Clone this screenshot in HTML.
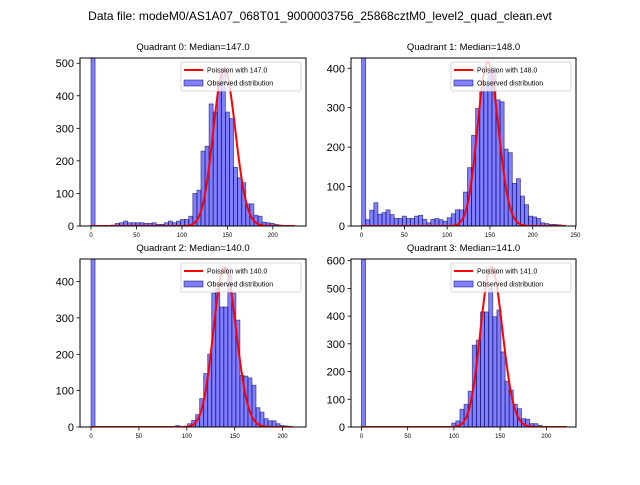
<!DOCTYPE html>
<html><head><meta charset="utf-8"><style>
body{margin:0;background:#fff;}
svg{font-family:"Liberation Sans","DejaVu Sans",sans-serif;}
</style></head><body>
<svg id="fig" width="640" height="480" viewBox="0 0 640 480">
<text x="320" y="20" text-anchor="middle" font-size="12">Data file: modeM0/AS1A07_068T01_9000003756_25868cztM0_level2_quad_clean.evt</text>
</svg>
<script>
const q0Counts=[600,0,0,0,0,3,8,10,15,10,10,10,10,8,8,10,5,5,10,15,10,15,20,20,30,100,110,230,245,375,350,440,480,350,330,180,148,133,68,68,33,30,12,10,8,5,3,2,1,1];
const q1Counts=[600,16,40,59,30,34,41,29,19,19,25,19,19,25,27,17,8,17,19,16,12,21,31,41,41,86,148,230,298,340,360,387,400,320,315,195,186,108,120,76,54,25,23,19,8,6,4,4,3,2];
const q2Counts=[600,0,0,0,0,0,0,0,0,0,0,0,0,0,0,0,0,0,0,0,0,4,0,0,9,18,34,78,147,200,368,380,330,330,420,368,294,142,140,135,115,53,41,23,17,17,9,4,3,1];
const q3Counts=[800,0,0,0,0,0,0,0,0,0,0,0,0,0,0,0,0,0,0,0,0,0,14,22,64,82,129,295,313,415,415,500,398,422,271,165,133,82,66,30,28,12,12,6,0,0,0,0,0,0];
const dataMax=[224,238,210,222];
const medians=[147.0,148.0,140.0,141.0];
const poissonScale=[14700,12650,13050,17170];
const xTicks=[[0,50,100,150,200],[0,50,100,150,200,250],[0,50,100,150,200],[0,50,100,150,200]];
const yTicks=[[0,100,200,300,400,500],[0,100,200,300,400],[0,100,200,300,400],[0,100,200,300,400,500,600]];
const xLim=[[-12.1,236.5],[-12.4,250.6],[-11.5,224.4],[-11.3,232.1]];
const yLim=[[0,516],[0,426],[0,462],[0,606]];
const allCounts=[q0Counts,q1Counts,q2Counts,q3Counts];
const boxes=[[80,58,306,226],[351,58,576,226],[80,259,306,427],[351,259,576,427]];
const NS='http://www.w3.org/2000/svg';
const svg=document.getElementById('fig');
function mk(t,a,p){const e=document.createElementNS(NS,t);for(const k in a)e.setAttribute(k,a[k]);(p||svg).appendChild(e);return e;}
function lnFact(k){let s=0;for(let i=2;i<=k;i++)s+=Math.log(i);return s;}
for(let q=0;q<4;q++){
  const [L,T,R,B]=boxes[q];
  const g=mk('g',{});
  
  
  const xs=v=>L+(v-xLim[q][0])/(xLim[q][1]-xLim[q][0])*(R-L);
  const ys=v=>B-(v-yLim[q][0])/(yLim[q][1]-yLim[q][0])*(B-T);
  const clipId='clip'+q;
  const cp=mk('clipPath',{id:clipId},g);mk('rect',{x:L,y:T,width:R-L,height:B-T},cp);
  const bars=mk('g',{'clip-path':'url(#'+clipId+')'},g);
  const c=allCounts[q];const bw=dataMax[q]/c.length;
  c.forEach((v,i)=>{ if(v<=0)return;
    const x0=xs(i*bw),x1=xs((i+1)*bw);
    const r=mk('rect',{x:x0,y:ys(v),width:x1-x0,height:B-ys(v),fill:'rgba(0,0,255,0.5)',stroke:'rgba(0,0,80,0.6)','stroke-width':0.8},bars);
    
    
  });
  let d='';
  for(let k=0;k<=Math.floor(dataMax[q]);k++){
    const lam=medians[q];
    const p=Math.exp(k*Math.log(lam)-lam-lnFact(k))*poissonScale[q];
    d+=(k?'L':'M')+xs(k).toFixed(2)+','+ys(p).toFixed(2);
  }
  const pl=mk('path',{d:d,fill:'none',stroke:'#ff0000','stroke-width':2},bars);
  
  
  mk('rect',{x:L,y:T,width:R-L,height:B-T,fill:'none',stroke:'#000','stroke-width':1},g);
  xTicks[q].forEach(t=>{const x=xs(t);mk('line',{x1:x,y1:B,x2:x,y2:B+3.5,stroke:'#000','stroke-width':0.8},g);
    const tx=mk('text',{x:x,y:B+11,'text-anchor':'middle','font-size':6},g);tx.textContent=t;
    });
  yTicks[q].forEach(t=>{const y=ys(t);mk('line',{x1:L-3.5,y1:y,x2:L,y2:y,stroke:'#000','stroke-width':0.8},g);
    const tx=mk('text',{x:L-6,y:y+4,'text-anchor':'end','font-size':11},g);tx.textContent=t;
    });
  const ti=mk('text',{x:(L+R)/2,y:T-8,'text-anchor':'middle','font-size':9.5},g);
  ti.textContent='Quadrant '+q+': Median='+medians[q].toFixed(1);
  
  const lg=mk('g',{},g);
  
  const lx=R-125,ly=T+4;
  mk('rect',{x:lx,y:ly,width:120,height:29,fill:'rgba(255,255,255,0.8)',stroke:'#ccc','stroke-width':0.8,rx:2},lg);
  mk('line',{x1:lx+3,y1:ly+8,x2:lx+22,y2:ly+8,stroke:'#ff0000','stroke-width':2},lg);
  const t1=mk('text',{x:lx+26,y:ly+10.5,'font-size':7},lg);t1.textContent='Poission with '+medians[q].toFixed(1);
  
  mk('rect',{x:lx+3,y:ly+18,width:19,height:6,fill:'rgba(0,0,255,0.5)',stroke:'rgba(0,0,80,0.6)','stroke-width':0.8},lg);
  const t2=mk('text',{x:lx+26,y:ly+23.5,'font-size':7},lg);t2.textContent='Observed distribution';
  
}
</script>
</body></html>
